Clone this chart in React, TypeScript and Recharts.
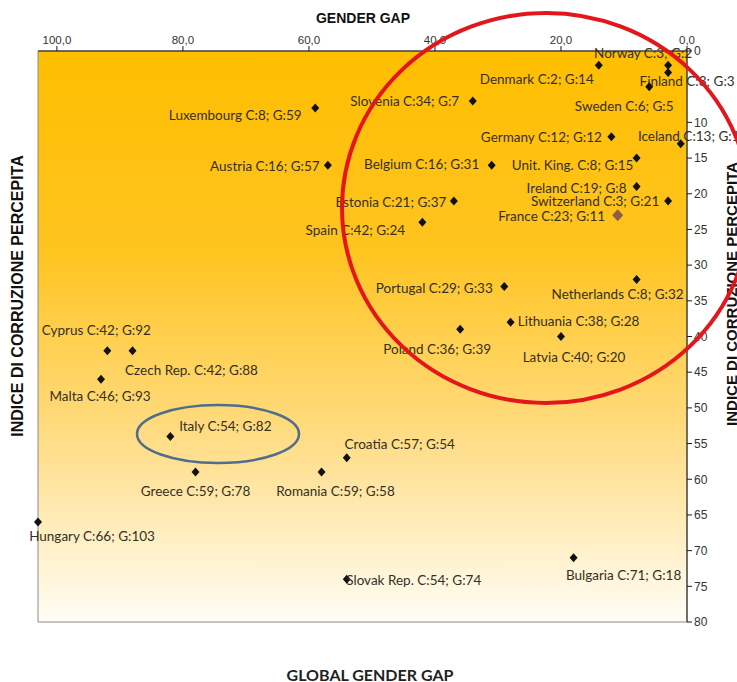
import { ScatterChart, Scatter, XAxis, YAxis, ReferenceArea } from "recharts";

// countries, position on the gender-gap axis (top) and on the corruption axis (right)
const COUNTRIES = [
  "Norway", "Finland", "Denmark", "Sweden", "Luxembourg", "Slovenia", "Germany", "Iceland",
  "Austria", "Belgium", "Unit. King.", "Ireland", "Switzerland", "France", "Estonia", "Spain",
  "Portugal", "Netherlands", "Lithuania", "Poland", "Latvia", "Cyprus", "Czech Rep.", "Malta",
  "Italy", "Croatia", "Greece", "Romania", "Hungary", "Slovak Rep.", "Bulgaria",
];
const GAP = [3, 3, 14, 6, 59, 34, 12, 1, 57, 31, 8, 8, 3, 11, 37, 42, 29, 8, 28, 36, 20, 92, 88, 93, 82, 54, 78, 58, 103, 54, 18];
const CORRUPTION = [2, 3, 2, 5, 8, 7, 12, 13, 16, 16, 15, 19, 21, 23, 21, 24, 33, 32, 38, 39, 40, 42, 42, 46, 54, 57, 59, 59, 66, 74, 71];
const LABELS = [
  "Norway C:3; G:2", "Finland C:3; G:3", "Denmark C:2; G:14", "Sweden C:6; G:5",
  "Luxembourg C:8; G:59", "Slovenia C:34; G:7", "Germany C:12; G:12", "Iceland C:13; G:1",
  "Austria C:16; G:57", "Belgium C:16; G:31", "Unit. King. C:8; G:15", "Ireland C:19; G:8",
  "Switzerland C:3; G:21", "France C:23; G:11", "Estonia C:21; G:37", "Spain C:42; G:24",
  "Portugal C:29; G:33", "Netherlands C:8; G:32", "Lithuania C:38; G:28", "Poland C:36; G:39",
  "Latvia C:40; G:20", "Cyprus C:42; G:92", "Czech Rep. C:42; G:88", "Malta C:46; G:93",
  "Italy C:54; G:82", "Croatia C:57; G:54", "Greece C:59; G:78", "Romania C:59; G:58",
  "Hungary C:66; G:103", "Slovak Rep. C:54; G:74", "Bulgaria C:71; G:18",
];
const X_TICKS = [0, 20, 40, 60, 80, 100];
const Y_TICKS = [0, 10, 15, 20, 25, 30, 35, 40, 45, 50, 55, 60, 65, 70, 75, 80];
const HIGHLIGHT = "France";

const data = COUNTRIES.map((name, i) => ({
  name,
  gap: GAP[i],
  corr: CORRUPTION[i],
  label: LABELS[i],
}));

// where each data label sits relative to its marker (px)
const LABEL_OFFSET: Record<string, [number, number]> = {
  Norway: [-25, -12], Finland: [19, 9], Denmark: [-62, 14], Sweden: [-25, 19],
  Luxembourg: [-80, 7], Slovenia: [-68, 0], Germany: [-70, 0], Iceland: [8, -8],
  Austria: [-63, 1], Belgium: [-70, -1], "Unit. King.": [-64, 7], Ireland: [-60, 1],
  Switzerland: [-73, 0], France: [-66, 1], Estonia: [-63, 1], Spain: [-67, 8],
  Portugal: [-70, 1], Netherlands: [-19, 15], Lithuania: [68, -1], Poland: [-23, 20],
  Latvia: [13, 20], Cyprus: [-11, -21], "Czech Rep.": [59, 19], Malta: [-1, 17],
  Italy: [55, -10], Croatia: [53, -14], Greece: [0, 19], Romania: [14, 19],
  Hungary: [54, 14], "Slovak Rep.": [67, 1], Bulgaria: [50, 17],
};

const LABEL_FONT = "Lato, 'Open Sans', sans-serif";
const AXIS_FONT = "'Liberation Sans', Arial, sans-serif";

function CountryPoint(props: any) {
  const { cx, cy, payload } = props;
  if (cx == null || cy == null) return null;
  const hi = payload.name === HIGHLIGHT;
  const h = hi ? 6 : 4.5;
  const w = hi ? 5.5 : 4;
  const [dx, dy] = LABEL_OFFSET[payload.name] || [0, 15];
  return (
    <g>
      <polygon
        points={`${cx},${cy - h} ${cx + w},${cy} ${cx},${cy + h} ${cx - w},${cy}`}
        fill={hi ? "#8e5c4a" : "#111"}
      />
      <text
        x={cx + dx}
        y={cy + dy}
        textAnchor="middle"
        dominantBaseline="central"
        fontSize={13.5}
        fontFamily={LABEL_FONT}
        fill="#35301f"
      >
        {payload.label}
      </text>
    </g>
  );
}

export default function App() {
  return (
    <div style={{ position: "absolute", left: 0, top: 0, width: 737, height: 682, background: "#fff" }}>
      <ScatterChart width={737} height={682} margin={{ top: 0, right: 0, bottom: 60, left: 38 }}>
        <XAxis
          type="number"
          dataKey="gap"
          orientation="top"
          reversed
          domain={[0, 103]}
          ticks={X_TICKS}
          height={51}
          tickFormatter={(v: number) => v.toFixed(1).replace(".", ",")}
          axisLine={{ stroke: "#1a1a1a" }}
          tickLine={{ stroke: "#1a1a1a" }}
          tickSize={5}
          tick={{ fontSize: 11.5, fill: "#333", fontFamily: AXIS_FONT }}
        />
        <YAxis
          type="number"
          dataKey="corr"
          orientation="right"
          reversed
          domain={[0, 80]}
          ticks={Y_TICKS}
          width={50}
          axisLine={{ stroke: "#1a1a1a" }}
          tickLine={{ stroke: "#1a1a1a" }}
          tickSize={5}
          tick={{ fontSize: 12, fill: "#333", fontFamily: AXIS_FONT }}
        />
        <ReferenceArea x1={0} x2={103} y1={0} y2={80} fill="url(#plotBg)" fillOpacity={1} stroke="#8c8c8c" />
        <Scatter data={data} shape={<CountryPoint />} isAnimationActive={false} />
      </ScatterChart>

      <svg
        width={737}
        height={682}
        style={{ position: "absolute", left: 0, top: 0, pointerEvents: "none" }}
      >
        <defs>
          <linearGradient id="plotBg" x1="0" y1="0" x2="0" y2="1">
            <stop offset="0" stopColor="#FFBE00" />
            <stop offset="0.35" stopColor="#FFC420" />
            <stop offset="0.65" stopColor="#FFDA7C" />
            <stop offset="1" stopColor="#FFFDF6" />
          </linearGradient>
        </defs>
        <text x={363} y={18} textAnchor="middle" dominantBaseline="central" fontSize={14} fontWeight="bold" fontFamily={AXIS_FONT} fill="#111">
          GENDER GAP
        </text>
        <text x={370} y={674} textAnchor="middle" dominantBaseline="central" fontSize={16} fontWeight="bold" fontFamily={LABEL_FONT} fill="#222">
          GLOBAL GENDER GAP
        </text>
        <text transform="translate(17,296) rotate(-90)" textAnchor="middle" dominantBaseline="central" fontSize={16} fontWeight="bold" fontFamily={AXIS_FONT} fill="#111">
          INDICE DI CORRUZIONE PERCEPITA
        </text>
        <text transform="translate(731,294) rotate(-90)" textAnchor="middle" dominantBaseline="central" fontSize={15} fontWeight="bold" fontFamily={AXIS_FONT} fill="#111">
          INDICE DI CORRUZIONE PERCEPITA
        </text>
        <ellipse cx={546} cy={208} rx={204} ry={195} fill="none" stroke="#e3161c" strokeWidth={4} />
        <ellipse cx={218} cy={434} rx={81} ry={29} fill="none" stroke="#4f6d8d" strokeWidth={2.5} />
      </svg>
    </div>
  );
}
